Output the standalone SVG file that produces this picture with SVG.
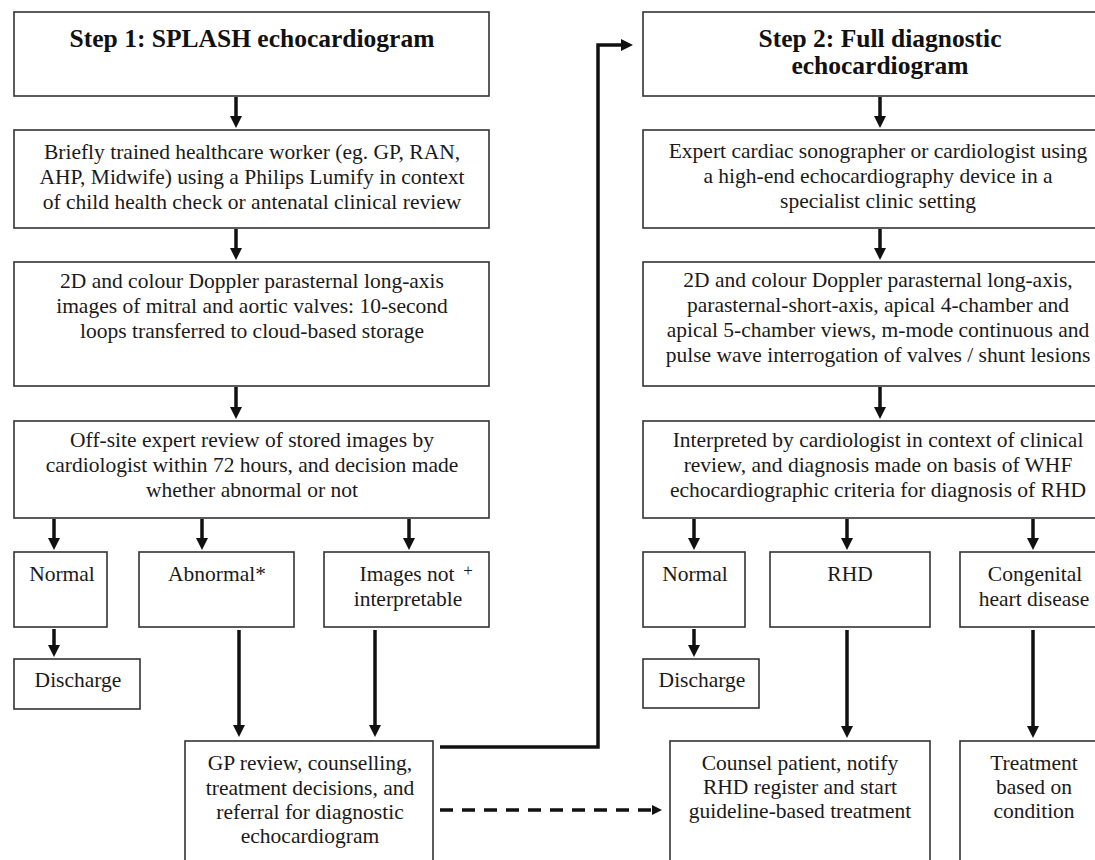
<svg xmlns="http://www.w3.org/2000/svg" width="1095" height="860" viewBox="0 0 1095 860">
<defs>
<style>
.box{fill:#fff;stroke:#333;stroke-width:1.6}
.t{font-size:21.5px;fill:#1a1a1a;text-anchor:middle}
.h{font-size:25.5px;font-weight:bold;fill:#111;text-anchor:middle}
.c{fill:none;stroke:#111;stroke-width:3.5}
.d{fill:none;stroke:#111;stroke-width:3.5;stroke-dasharray:13 9}
</style>
<marker id="ah" viewBox="0 0 12 12" refX="2" refY="6" markerWidth="12" markerHeight="12" markerUnits="userSpaceOnUse" orient="auto">
<path d="M0,0 L12,6 L0,12 z" fill="#111"/>
</marker>
<marker id="ahs" viewBox="0 0 10 10" refX="2" refY="5" markerWidth="10" markerHeight="10" markerUnits="userSpaceOnUse" orient="auto">
<path d="M0,0 L10,5 L0,10 z" fill="#111"/>
</marker>
</defs>
<rect width="1095" height="860" fill="#fff"/>
<g font-family="Liberation Serif, Tinos, Times New Roman, DejaVu Serif, serif">
<g id="step1">
<rect class="box" x="14" y="12" width="475" height="84"/>
<text class="h" x="252" y="47">Step 1: SPLASH echocardiogram</text>
</g>
<g id="worker">
<rect class="box" x="14" y="130" width="475" height="98"/>
<text class="t" x="252" y="159">Briefly trained healthcare worker (eg. GP, RAN,</text>
<text class="t" x="252" y="184">AHP, Midwife) using a Philips Lumify in context</text>
<text class="t" x="252" y="209">of child health check or antenatal clinical review</text>
</g>
<g id="images1">
<rect class="box" x="14" y="262" width="475" height="124"/>
<text class="t" x="252" y="288">2D and colour Doppler parasternal long-axis</text>
<text class="t" x="252" y="313">images of mitral and aortic valves: 10-second</text>
<text class="t" x="252" y="338">loops transferred to cloud-based storage</text>
</g>
<g id="review1">
<rect class="box" x="14" y="421" width="475" height="97"/>
<text class="t" x="252" y="447">Off-site expert review of stored images by</text>
<text class="t" x="252" y="472">cardiologist within 72 hours, and decision made</text>
<text class="t" x="252" y="497">whether abnormal or not</text>
</g>
<g id="normal1">
<rect class="box" x="14" y="552" width="93" height="75"/>
<text class="t" x="62" y="581">Normal</text>
</g>
<g id="discharge1">
<rect class="box" x="14" y="659" width="126" height="50"/>
<text class="t" x="78" y="687">Discharge</text>
</g>
<g id="abnormal">
<rect class="box" x="139" y="552" width="155" height="75"/>
<text class="t" x="217" y="581">Abnormal*</text>
</g>
<g id="notinterp">
<rect class="box" x="324" y="552" width="165" height="75"/>
<text class="t" x="407" y="581">Images not</text>
<text class="t" x="468" y="576" style="font-size:17px">+</text>
<text class="t" x="408" y="606">interpretable</text>
</g>
<g id="gp">
<rect class="box" x="185" y="741" width="248" height="125"/>
<text class="t" x="310" y="770">GP review, counselling,</text>
<text class="t" x="310" y="794.5">treatment decisions, and</text>
<text class="t" x="310" y="819">referral for diagnostic</text>
<text class="t" x="310" y="843">echocardiogram</text>
</g>

<g id="step2">
<rect class="box" x="643" y="12" width="480" height="84"/>
<text class="h" x="880" y="47">Step 2: Full diagnostic</text>
<text class="h" x="880" y="74">echocardiogram</text>
</g>
<g id="expert">
<rect class="box" x="643" y="130" width="480" height="98"/>
<text class="t" x="878" y="158">Expert cardiac sonographer or cardiologist using</text>
<text class="t" x="878" y="183">a high-end echocardiography device in a</text>
<text class="t" x="878" y="208">specialist clinic setting</text>
</g>
<g id="images2">
<rect class="box" x="643" y="262" width="480" height="124"/>
<text class="t" x="878" y="287">2D and colour Doppler parasternal long-axis,</text>
<text class="t" x="878" y="312">parasternal-short-axis, apical 4-chamber and</text>
<text class="t" x="878" y="337">apical 5-chamber views, m-mode continuous and</text>
<text class="t" x="878" y="362">pulse wave interrogation of valves / shunt lesions</text>
</g>
<g id="interp">
<rect class="box" x="643" y="421" width="480" height="97"/>
<text class="t" x="878" y="447">Interpreted by cardiologist in context of clinical</text>
<text class="t" x="878" y="472">review, and diagnosis made on basis of WHF</text>
<text class="t" x="878" y="497">echocardiographic criteria for diagnosis of RHD</text>
</g>
<g id="normal2">
<rect class="box" x="643" y="552" width="102" height="75"/>
<text class="t" x="695" y="581">Normal</text>
</g>
<g id="discharge2">
<rect class="box" x="643" y="659" width="116" height="49"/>
<text class="t" x="702" y="687">Discharge</text>
</g>
<g id="rhd">
<rect class="box" x="770" y="552" width="160" height="75"/>
<text class="t" x="850" y="581">RHD</text>
</g>
<g id="congenital">
<rect class="box" x="960" y="552" width="160" height="75"/>
<text class="t" x="1035" y="581">Congenital</text>
<text class="t" x="1034" y="606">heart disease</text>
</g>
<g id="counsel">
<rect class="box" x="670" y="741" width="260" height="125"/>
<text class="t" x="800" y="770">Counsel patient, notify</text>
<text class="t" x="800" y="794">RHD register and start</text>
<text class="t" x="800" y="818">guideline-based treatment</text>
</g>
<g id="treatment">
<rect class="box" x="960" y="741" width="160" height="125"/>
<text class="t" x="1034" y="770">Treatment</text>
<text class="t" x="1034" y="794">based on</text>
<text class="t" x="1034" y="818">condition</text>
</g>
</g>
<g id="connectors">
<line class="c" x1="236" y1="97" x2="236" y2="118" marker-end="url(#ah)"/>
<line class="c" x1="236" y1="229" x2="236" y2="250" marker-end="url(#ah)"/>
<line class="c" x1="236" y1="387" x2="236" y2="409" marker-end="url(#ah)"/>
<line class="c" x1="54" y1="519" x2="54" y2="540" marker-end="url(#ah)"/>
<line class="c" x1="202" y1="519" x2="202" y2="540" marker-end="url(#ah)"/>
<line class="c" x1="409" y1="519" x2="409" y2="540" marker-end="url(#ah)"/>
<line class="c" x1="54" y1="629" x2="54" y2="647" marker-end="url(#ah)"/>
<line class="c" x1="239" y1="630" x2="239" y2="727" marker-end="url(#ah)"/>
<line class="c" x1="375" y1="630" x2="375" y2="727" marker-end="url(#ah)"/>
<polyline class="c" points="440,747 598,747 598,45 623,45" marker-end="url(#ah)"/>
<line class="d" x1="440" y1="810" x2="654" y2="810" marker-end="url(#ahs)"/>
<line class="c" x1="880" y1="97" x2="880" y2="118" marker-end="url(#ah)"/>
<line class="c" x1="880" y1="229" x2="880" y2="250" marker-end="url(#ah)"/>
<line class="c" x1="880" y1="387" x2="880" y2="409" marker-end="url(#ah)"/>
<line class="c" x1="694" y1="519" x2="694" y2="540" marker-end="url(#ah)"/>
<line class="c" x1="847" y1="519" x2="847" y2="540" marker-end="url(#ah)"/>
<line class="c" x1="1033" y1="519" x2="1033" y2="540" marker-end="url(#ah)"/>
<line class="c" x1="694" y1="629" x2="694" y2="647" marker-end="url(#ah)"/>
<line class="c" x1="847" y1="630" x2="847" y2="728" marker-end="url(#ah)"/>
<line class="c" x1="1033" y1="630" x2="1033" y2="728" marker-end="url(#ah)"/>
</g>
</svg>
